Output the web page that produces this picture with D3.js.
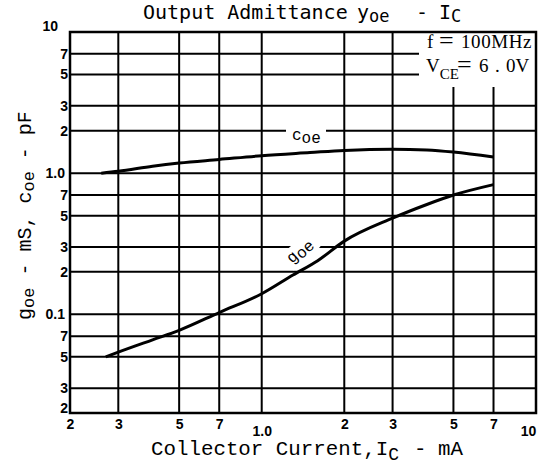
<!DOCTYPE html>
<html>
<head>
<meta charset="utf-8">
<script src="https://cdn.jsdelivr.net/npm/d3@7"></script>
<style>
  body { margin: 0; background: #fff; }
  svg { display: block; }
</style>
</head>
<body>
<div id="chart"></div>
<script>
// chart values
var coeCurrent = [0.26, 0.3, 0.4, 0.5, 0.7, 1.0, 1.5, 2, 3, 4, 5, 7]
var coeValues  = [1.0, 1.03, 1.12, 1.18, 1.25, 1.33, 1.40, 1.45, 1.48, 1.46, 1.41, 1.30]

var goeCurrent = [0.27, 0.3, 0.4, 0.5, 0.7, 1.0, 1.3, 1.6, 2, 3, 4, 5, 7]
var goeValues  = [0.05, 0.054, 0.066, 0.077, 0.103, 0.14, 0.19, 0.24, 0.33, 0.48, 0.60, 0.70, 0.83]

var xTicks = [0.2, 0.3, 0.5, 0.7, 1, 2, 3, 5, 7, 10]
var xTickLabels = ["2", "3", "5", "7", "1.0", "2", "3", "5", "7", "10"]
var yTicks = [10, 7, 5, 3, 2, 1, 0.7, 0.5, 0.3, 0.2, 0.1, 0.07, 0.05, 0.03, 0.02]
var yTickLabels = ["10", "7", "5", "3", "2", "1.0", "7", "5", "3", "2", "0.1", "7", "5", "3", "2"]

var width = 542,
    height = 466
// plot frame (window.top is read-only, so no "top" here)
var pLeft = 70, pRight = 536, pTop = 32, pBottom = 413

var svg = d3.select("#chart")
    .append("svg")
    .attr("width", width)
    .attr("height", height)

var x = d3.scaleLog().domain([0.2, 10]).range([pLeft, pRight])
var y = d3.scaleLog().domain([0.02, 10]).range([pBottom, pTop])

// grid lines (the inner ticks only, frame is drawn separately)
var xGrid = xTicks.slice(1, -1)
var yGrid = yTicks.slice(1, -1)

svg.append("g").selectAll("line")
    .data(xGrid)
    .enter().append("line")
    .attr("x1", function(d) { return x(d) })
    .attr("x2", function(d) { return x(d) })
    .attr("y1", pTop)
    .attr("y2", pBottom)
    .attr("stroke", "#000")
    .attr("stroke-width", 2)

svg.append("g").selectAll("line")
    .data(yGrid)
    .enter().append("line")
    .attr("x1", pLeft)
    .attr("x2", pRight)
    .attr("y1", function(d) { return y(d) })
    .attr("y2", function(d) { return y(d) })
    .attr("stroke", "#000")
    .attr("stroke-width", 2)

// white box behind the conditions text
svg.append("rect")
    .attr("x", 419).attr("y", pTop + 1)
    .attr("width", pRight - 419 - 1).attr("height", 54)
    .attr("fill", "#fff")

// frame
svg.append("rect")
    .attr("x", pLeft).attr("y", pTop)
    .attr("width", pRight - pLeft).attr("height", pBottom - pTop)
    .attr("fill", "none")
    .attr("stroke", "#000")
    .attr("stroke-width", 2.5)

// curves
var line = d3.line()
    .x(function(d) { return x(d[0]) })
    .y(function(d) { return y(d[1]) })
    .curve(d3.curveMonotoneX)

svg.append("path")
    .datum(d3.zip(coeCurrent, coeValues))
    .attr("d", line)
    .attr("fill", "none")
    .attr("stroke", "#000")
    .attr("stroke-width", 3)

svg.append("path")
    .datum(d3.zip(goeCurrent, goeValues))
    .attr("d", line)
    .attr("fill", "none")
    .attr("stroke", "#000")
    .attr("stroke-width", 3)

// tick labels through the axes
var tickFont = "'Liberation Sans', Arial, sans-serif"

var xAxis = svg.append("g")
    .attr("transform", "translate(0," + pBottom + ")")
    .call(d3.axisBottom(x).tickValues(xTicks).tickSize(0).tickPadding(6)
        .tickFormat(function(d, i) { return xTickLabels[i] }))
xAxis.select(".domain").remove()
xAxis.selectAll("text")
    .style("font-family", tickFont)
    .style("font-weight", "bold")
    .style("font-size", "14px")
    .attr("dy", function(d, i) { return (xTickLabels[i] == "1.0" || xTickLabels[i] == "10") ? "1.2em" : "0.71em" })
    .attr("dx", function(d, i) { return xTickLabels[i] == "10" ? "-8" : 0 })

var yAxis = svg.append("g")
    .attr("transform", "translate(" + pLeft + ",0)")
    .call(d3.axisLeft(y).tickValues(yTicks).tickSize(0).tickPadding(2)
        .tickFormat(function(d, i) { return yTickLabels[i] }))
yAxis.select(".domain").remove()
yAxis.selectAll("text")
    .style("font-family", tickFont)
    .style("font-weight", "bold")
    .style("font-size", "14px")
    .attr("dx", function(d, i) { return i == 0 ? "-10" : (yTickLabels[i] == "1.0" || yTickLabels[i] == "0.1") ? "-3" : 0 })
    .attr("dy", function(d, i) { return i == 0 ? "-0.1em" : i == yTicks.length - 1 ? "-0.05em" : "0.32em" })

// title
var mono = "'DejaVu Sans Mono', monospace"
var title = svg.append("text")
    .attr("x", 143).attr("y", 19)
    .style("font-family", mono)
    .style("font-size", "20px")
title.append("tspan").text("Output Admittance")
title.append("tspan").attr("x", 357).text("y")
title.append("tspan").attr("dy", 3).style("font-size", "17px").text("oe")
title.append("tspan").attr("dy", -3).attr("x", 416).text("-")
title.append("tspan").attr("x", 439).text("I")
title.append("tspan").attr("dy", 3).style("font-size", "17px").text("C")

// x label
var courier = "'Liberation Mono', 'Courier New', monospace"
var xLabel = svg.append("text")
    .attr("x", 151).attr("y", 455)
    .style("font-family", courier)
    .style("font-size", "20.8px")
xLabel.append("tspan").text("Collector Current,I")
xLabel.append("tspan").attr("dy", 5).style("font-size", "18px").text("C")
xLabel.append("tspan").attr("dy", -5).attr("x", 414).text("-")
xLabel.append("tspan").attr("x", 438).text("mA")

// y label
var yLabel = svg.append("text")
    .attr("transform", "translate(31,320) rotate(-90)")
    .style("font-family", courier)
    .style("font-size", "20px")
yLabel.append("tspan").text("g")
yLabel.append("tspan").attr("dy", 3).style("font-size", "17px").text("oe")
yLabel.append("tspan").attr("dy", -3).text(" - mS, c")
yLabel.append("tspan").attr("dy", 3).style("font-size", "17px").text("oe")
yLabel.append("tspan").attr("dy", -3).text(" - pF")

// conditions
var serif = "'Liberation Serif', 'Times New Roman', serif"
var fLine = svg.append("text")
    .attr("x", 427).attr("y", 48)
    .style("font-family", serif)
    .style("font-size", "19px")
fLine.append("tspan").text("f")
fLine.append("tspan").attr("x", 439).attr("dy", 1).style("font-size", "26px").text("=")
fLine.append("tspan").attr("x", 461).attr("dy", -1).style("letter-spacing", "0.6px").text("100MHz")
var vce = svg.append("text")
    .attr("x", 426).attr("y", 72)
    .style("font-family", serif)
    .style("font-size", "19px")
vce.append("tspan").text("V")
vce.append("tspan").attr("dy", 7).style("font-size", "15px").text("CE")
vce.append("tspan").attr("dy", -6).attr("x", 457).style("font-size", "26px").text("=")
vce.append("tspan").attr("dy", -1).attr("x", 479).text("6")
vce.append("tspan").attr("x", 495).text(".")
vce.append("tspan").attr("x", 506).text("0V")

// curve labels
svg.append("rect")
    .attr("x", 286).attr("y", 127).attr("width", 40).attr("height", 18)
    .attr("fill", "#fff")
var coeLabel = svg.append("text")
    .attr("x", 292).attr("y", 140)
    .style("font-family", courier)
    .style("font-size", "16px")
coeLabel.append("tspan").text("c")
coeLabel.append("tspan").attr("dy", 3).text("oe")

var goeLabel = svg.append("g")
    .attr("transform", "translate(292,264) rotate(-42)")
goeLabel.append("rect")
    .attr("x", -3).attr("y", -14).attr("width", 36).attr("height", 20)
    .attr("fill", "#fff")
var goeText = goeLabel.append("text")
    .style("font-family", courier)
    .style("font-size", "16px")
goeText.append("tspan").text("g")
goeText.append("tspan").attr("dy", 3).text("oe")
</script>
</body>
</html>
